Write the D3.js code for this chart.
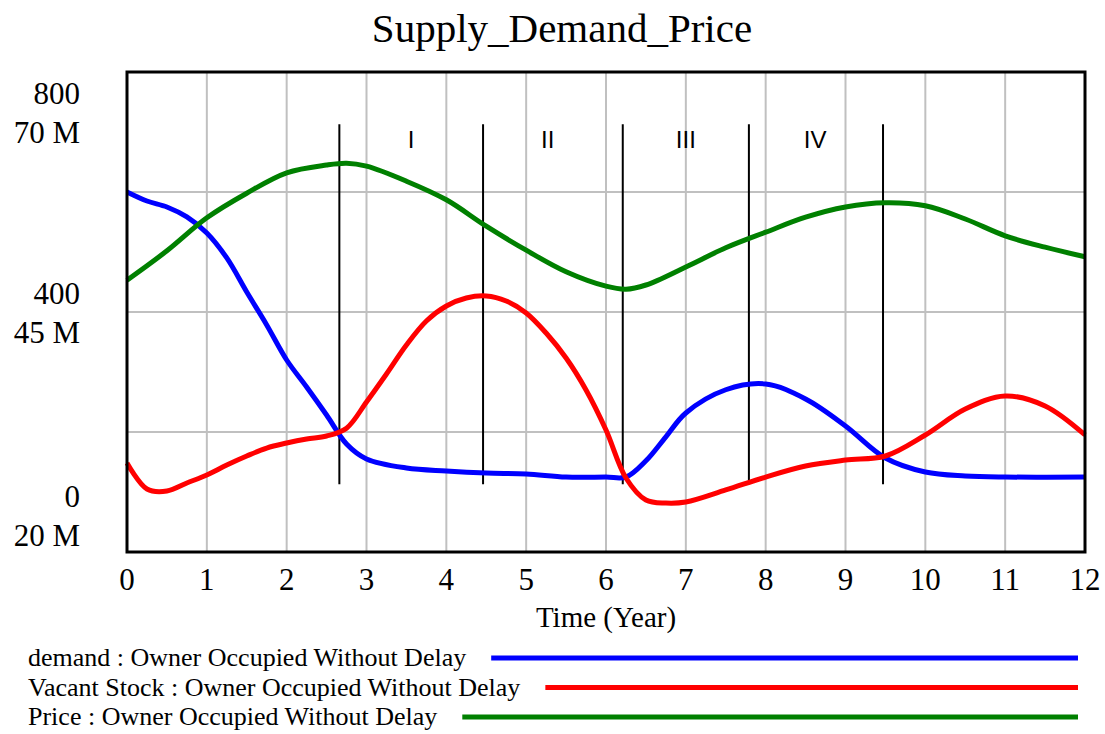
<!DOCTYPE html>
<html>
<head>
<meta charset="utf-8">
<script src="https://cdn.jsdelivr.net/npm/d3@7"></script>
<style>
  body { margin: 0; background: #fff; }
  svg { display: block; }
</style>
</head>
<body>
<svg id="chart"></svg>
<script>
// values
var demandT = [0,0.25,0.5,0.75,1,1.25,1.5,1.75,2,2.25,2.5,2.75,3,3.5,4,4.5,5,5.5,6,6.25,6.5,6.75,7,7.5,8,8.5,9,9.5,10,10.5,11,12];
var demandV = [57.5,56.56,55.94,54.9,53.23,50.63,47.08,43.65,40.0,37.19,34.27,31.25,29.69,28.75,28.44,28.23,28.13,27.81,27.81,27.81,29.5,32.0,34.48,36.9,37.5,35.94,33.13,29.79,28.33,27.92,27.81,27.81];

var stockT = [0,0.25,0.5,0.75,1,1.25,1.5,1.75,2,2.25,2.5,2.75,3,3.25,3.5,3.75,4,4.25,4.5,4.75,5,5.25,5.5,5.75,6,6.25,6.5,6.75,7,7.5,8,8.5,9,9.5,10,10.5,11,11.5,12];
var stockV = [29.27,26.56,26.35,27.19,28.02,29.06,30.0,30.83,31.35,31.77,32.08,32.9,35.63,38.54,41.56,44.06,45.63,46.46,46.67,46.15,44.9,42.81,40.21,36.88,32.71,27.71,25.42,25.1,25.21,26.46,27.81,28.96,29.58,30.0,32.19,34.9,36.25,35.21,32.19];

var priceT = [0,0.5,1,1.5,2,2.5,2.75,3,3.5,4,4.5,5,5.5,6,6.25,6.5,7,7.5,8,8.5,9,9.5,10,10.5,11,11.5,12];
var priceV = [453,502,557,598,632,645,648,643,618,587,543,503,467,443,438,445,475,507,533,558,575,582,577,555,527,508,492];

var xTicks = [0,1,2,3,4,5,6,7,8,9,10,11,12];
var priceTicks = [800, 400, 0];
var stockTicks = ["70 M", "45 M", "20 M"];

// phase markers
var phaseT = [2.66, 4.46, 6.21, 7.79, 9.47];
var phaseLabels = ["I", "II", "III", "IV"];
var phaseLabelT = [3.56, 5.27, 7.0, 8.62];

var series = [
  {name: "demand : Owner Occupied Without Delay", t: demandT, v: demandV, axis: "stock", color: "#0000ff"},
  {name: "Vacant Stock : Owner Occupied Without Delay", t: stockT, v: stockV, axis: "stock", color: "#ff0000"},
  {name: "Price : Owner Occupied Without Delay", t: priceT, v: priceV, axis: "price", color: "#008000"}
];

var width = 1105, height = 734;
var margin = {top: 72, right: 20, bottom: 182, left: 127};
var svg = d3.select("#chart").attr("width", width).attr("height", height);

var x = d3.scaleLinear().domain([0, 12]).range([margin.left, width - margin.right]);
var yPrice = d3.scaleLinear().domain([0, 800]).range([height - margin.bottom, margin.top]);
var yStock = d3.scaleLinear().domain([20, 70]).range([height - margin.bottom, margin.top]);

var serif = "'Liberation Serif', 'Times New Roman', serif";

// title
svg.append("text")
  .attr("x", 562)
  .attr("y", 42)
  .attr("text-anchor", "middle")
  .style("font-family", serif)
  .style("font-size", "41px")
  .text("Supply_Demand_Price");

// grid
var grid = svg.append("g").attr("stroke", "#c0c0c0").attr("stroke-width", 2);
grid.selectAll(".vg").data(xTicks.slice(1, -1)).enter().append("line")
  .attr("x1", function (d) { return x(d); })
  .attr("x2", function (d) { return x(d); })
  .attr("y1", yPrice(800)).attr("y2", yPrice(0));
grid.selectAll(".hg").data([200, 400, 600]).enter().append("line")
  .attr("x1", x(0)).attr("x2", x(12))
  .attr("y1", function (d) { return yPrice(d); })
  .attr("y2", function (d) { return yPrice(d); });

// phase lines
svg.append("g").selectAll("line").data(phaseT).enter().append("line")
  .attr("x1", function (d) { return x(d); })
  .attr("x2", function (d) { return x(d); })
  .attr("y1", yPrice(713)).attr("y2", yPrice(113))
  .attr("stroke", "#000").attr("stroke-width", 2);

svg.append("g").selectAll("text").data(phaseLabels).enter().append("text")
  .attr("x", function (d, i) { return x(phaseLabelT[i]); })
  .attr("y", 148)
  .attr("text-anchor", "middle")
  .style("font-family", "'Liberation Sans', Arial, sans-serif")
  .style("font-size", "24px")
  .text(function (d) { return d; });

// lines
series.forEach(function (s) {
  var ys = s.axis === "price" ? yPrice : yStock;
  var line = d3.line()
    .x(function (d, i) { return x(s.t[i]); })
    .y(function (d) { return ys(d); })
    .curve(d3.curveCatmullRom.alpha(0.5));
  svg.append("path")
    .datum(s.v)
    .attr("d", line)
    .attr("fill", "none")
    .attr("stroke", s.color)
    .attr("stroke-width", 5)
    .attr("stroke-linejoin", "round");
});

// frame
svg.append("rect")
  .attr("x", x(0)).attr("y", yPrice(800))
  .attr("width", x(12) - x(0)).attr("height", yPrice(0) - yPrice(800))
  .attr("fill", "none").attr("stroke", "#000").attr("stroke-width", 3);

// x axis labels
svg.append("g").selectAll("text").data(xTicks).enter().append("text")
  .attr("x", function (d) { return x(d); })
  .attr("y", 590)
  .attr("text-anchor", "middle")
  .style("font-family", serif)
  .style("font-size", "31px")
  .text(function (d) { return d; });

svg.append("text")
  .attr("x", (x(0) + x(12)) / 2)
  .attr("y", 627)
  .attr("text-anchor", "middle")
  .style("font-family", serif)
  .style("font-size", "29px")
  .text("Time (Year)");

// y axis labels, stacked pairs
var shift = [40, 0, -37];
priceTicks.forEach(function (p, i) {
  var base = yPrice(p) + shift[i] - 8;
  svg.append("text").attr("x", 80).attr("y", base)
    .attr("text-anchor", "end")
    .style("font-family", serif).style("font-size", "31px")
    .text(p);
  svg.append("text").attr("x", 80).attr("y", base + 39)
    .attr("text-anchor", "end")
    .style("font-family", serif).style("font-size", "31px")
    .text(stockTicks[i]);
});

// legend
var legend = svg.append("g");
series.forEach(function (s, i) {
  var ly = 666 + i * 29.5;
  var t = legend.append("text")
    .attr("x", 28).attr("y", ly)
    .style("font-family", serif)
    .style("font-size", "26px")
    .text(s.name);
  var w = t.node().getComputedTextLength();
  legend.append("line")
    .attr("x1", 28 + w + 25).attr("x2", 1078)
    .attr("y1", ly - 8).attr("y2", ly - 8)
    .attr("stroke", s.color).attr("stroke-width", 5);
});
</script>
</body>
</html>
